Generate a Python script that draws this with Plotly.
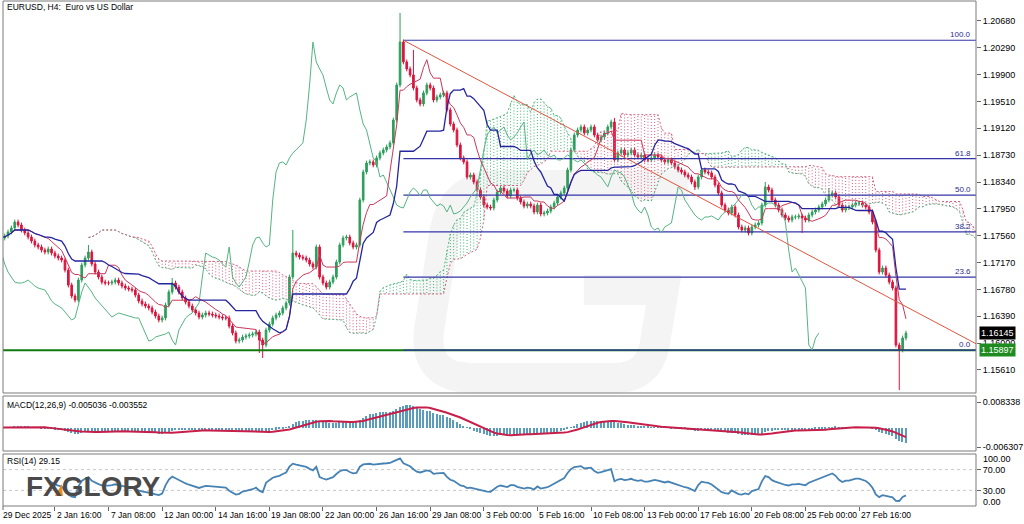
import numpy as np
import pandas as pd
import plotly.graph_objects as go

# ---------------- data (EURUSD H4) ----------------
close = [
 1.17527, 1.17556, 1.17614, 1.17672, 1.17759, 1.17716, 1.17643, 1.17600, 1.17541, 1.17483,
 1.17425, 1.17396, 1.17352, 1.17323, 1.17367, 1.17308, 1.17265, 1.17236, 1.17207, 1.17061,
 1.16843, 1.16684, 1.16626, 1.16916, 1.17134, 1.17236, 1.17323, 1.17149, 1.17032, 1.16960,
 1.16887, 1.16873, 1.16873, 1.16887, 1.16916, 1.16873, 1.16829, 1.16800, 1.16785, 1.16771,
 1.16698, 1.16612, 1.16568, 1.16539, 1.16510, 1.16452, 1.16394, 1.16335, 1.16365, 1.16553,
 1.16742, 1.16873, 1.16814, 1.16742, 1.16655, 1.16597, 1.16539, 1.16481, 1.16437, 1.16379,
 1.16408, 1.16437, 1.16423, 1.16408, 1.16394, 1.16379, 1.16365, 1.16365, 1.16248, 1.16147,
 1.16030, 1.16045, 1.16088, 1.16103, 1.16117, 1.16132, 1.16161, 1.16045, 1.15972, 1.16190,
 1.16277, 1.16365, 1.16408, 1.16437, 1.16510, 1.16582, 1.16960, 1.17308, 1.17279, 1.17250,
 1.17236, 1.17207, 1.17149, 1.17105, 1.17396, 1.16960, 1.16873, 1.16814, 1.16887, 1.16960,
 1.17178, 1.17425, 1.17527, 1.17541, 1.17454, 1.17396, 1.17425, 1.18079, 1.18486, 1.18617,
 1.18632, 1.18588, 1.18690, 1.18762, 1.18806, 1.18850, 1.18908, 1.19241, 1.19750, 1.20375,
 1.20085, 1.19983, 1.19896, 1.19706, 1.19532, 1.19474, 1.19634, 1.19750, 1.19706, 1.19532,
 1.19576, 1.19605, 1.19634, 1.19387, 1.19183, 1.19096, 1.18879, 1.18690, 1.18632, 1.18413,
 1.18442, 1.18341, 1.18224, 1.18123, 1.18006, 1.17977, 1.17963, 1.18079, 1.18195, 1.18253,
 1.18210, 1.18137, 1.18224, 1.18224, 1.18108, 1.18050, 1.17992, 1.18021, 1.17992, 1.17905,
 1.18006, 1.17876, 1.17890, 1.17919, 1.17977, 1.18035, 1.18123, 1.18181, 1.18253, 1.18515,
 1.18806, 1.19023, 1.19096, 1.19140, 1.19053, 1.19096, 1.19140, 1.19023, 1.18951, 1.18994,
 1.19053, 1.19140, 1.19212, 1.18661, 1.18762, 1.18806, 1.18733, 1.18762, 1.18806, 1.18733,
 1.18704, 1.18733, 1.18661, 1.18661, 1.18690, 1.18733, 1.18704, 1.18661, 1.18632, 1.18661,
 1.18617, 1.18559, 1.18515, 1.18486, 1.18442, 1.18413, 1.18341, 1.18268, 1.18413, 1.18515,
 1.18486, 1.18472, 1.18413, 1.18297, 1.18181, 1.18006, 1.17934, 1.17890, 1.17977, 1.17861,
 1.17687, 1.17643, 1.17672, 1.17600, 1.17687, 1.17716, 1.17745, 1.18006, 1.18268, 1.18224,
 1.18079, 1.18006, 1.17934, 1.17861, 1.17817, 1.17788, 1.17832, 1.17832, 1.17847, 1.17817,
 1.17788, 1.17861, 1.17905, 1.17934, 1.17977, 1.18021, 1.18079, 1.18152, 1.18181, 1.18123,
 1.18006, 1.17934, 1.17977, 1.17977, 1.18006, 1.18035, 1.18035, 1.18006, 1.17977, 1.17905,
 1.17760, 1.17352, 1.17032, 1.17091, 1.16989, 1.16887, 1.16800, 1.15972, 1.15900, 1.16074,
 1.16145,
]
first_open = 1.17545
wick_size = 0.00035
high_marks = {26: 1.17425, 51: 1.16946, 87: 1.17643, 119: 1.20796, 123: 1.20259,
              183: 1.19270, 228: 1.18341, 247: 1.18253}
low_marks = {77: 1.15856, 78: 1.15784, 207: 1.18224, 239: 1.17600, 268: 1.15318}

tick_idx = [0, 16, 32, 48, 64, 80, 96, 112, 128, 144, 160, 176, 192, 208, 224, 240, 256]
tick_text = ["29 Dec 2025", "2 Jan 16:00", "7 Jan 08:00", "12 Jan 00:00", "14 Jan 16:00",
             "19 Jan 08:00", "22 Jan 00:00", "26 Jan 16:00", "29 Jan 08:00", "3 Feb 00:00",
             "5 Feb 16:00", "10 Feb 08:00", "13 Feb 00:00", "17 Feb 16:00", "20 Feb 08:00",
             "25 Feb 00:00", "27 Feb 16:00"]
price_ticks = [1.20680, 1.20290, 1.19900, 1.19510, 1.19120, 1.18730, 1.18340,
               1.17950, 1.17560, 1.17170, 1.16780, 1.16390, 1.16000, 1.15610]
fib_levels = [0.0, 23.6, 38.2, 50.0, 61.8, 100.0]
fib_low, fib_high = 1.15897, 1.20400
fib_start = 120
trend_x = [120, 291]
trend_y = [1.20400, 1.15988]
support_level = 1.15897
last_price = 1.16145
macd_labels = [0.008338, -0.006307]

# ---------------- derived series ----------------
n = len(close)
idx = np.arange(n)
opn = [first_open] + close[:-1]
high = [high_marks.get(i, max(o, c) + wick_size) for i, (o, c) in enumerate(zip(opn, close))]
low = [low_marks.get(i, min(o, c) - wick_size) for i, (o, c) in enumerate(zip(opn, close))]

h = pd.Series(high); l = pd.Series(low); c = pd.Series(close)
tenkan = (h.rolling(9, min_periods=1).max() + l.rolling(9, min_periods=1).min()) / 2
kijun = (h.rolling(26, min_periods=1).max() + l.rolling(26, min_periods=1).min()) / 2
spanA = ((tenkan + kijun) / 2).values
spanB = ((h.rolling(52, min_periods=1).max() + l.rolling(52, min_periods=1).min()) / 2).values

ema12 = c.ewm(span=12, adjust=False).mean()
ema26 = c.ewm(span=26, adjust=False).mean()
macd = ema12 - ema26
signal = macd.rolling(9, min_periods=1).mean()

d = c.diff()
up = d.clip(lower=0).ewm(alpha=1/14, adjust=False, min_periods=14).mean()
dn = (-d.clip(upper=0)).ewm(alpha=1/14, adjust=False, min_periods=14).mean()
rsi = 100 - 100 / (1 + up / dn)

# ---------------- figure ----------------
W, H = 1024, 524
ML, MR, MT, MB = 3, 46, 1, 18
PW, PH = W - ML - MR, H - MT - MB

def pxx(px):
    return (px - ML) / PW

def pxy(py):
    return (H - MB - py) / PH

FONT = "Liberation Sans"
fig = go.Figure()

# Ichimoku cloud (dotted verticals)
gx, gy, rx, ry = [], [], [], []
for i in range(n):
    x = i + 26
    if spanA[i] >= spanB[i]:
        gx += [x, x, None]; gy += [spanA[i], spanB[i], None]
    else:
        rx += [x, x, None]; ry += [spanA[i], spanB[i], None]
fig.add_trace(go.Scatter(x=gx, y=gy, mode="lines", line=dict(color="#3CB371", width=1, dash="1px,2px"),
                         hoverinfo="skip"))
fig.add_trace(go.Scatter(x=rx, y=ry, mode="lines", line=dict(color="#D2607E", width=1, dash="1px,2px"),
                         hoverinfo="skip"))
fig.add_trace(go.Scatter(x=idx + 26, y=spanA, mode="lines", line=dict(color="#4FB57E", width=1, dash="2px,2px")))
fig.add_trace(go.Scatter(x=idx + 26, y=spanB, mode="lines", line=dict(color="#D2607E", width=1, dash="2px,2px")))

# support line
fig.add_trace(go.Scatter(x=[0.5, 291], y=[support_level, support_level], mode="lines",
                         line=dict(color="#0E7A0E", width=2)))
# fibonacci
for lv in fib_levels:
    p = fib_low + (fib_high - fib_low) * lv / 100
    fig.add_trace(go.Scatter(x=[fib_start, 291], y=[p, p], mode="lines",
                             line=dict(color="#3535A8", width=1.2)))
# chikou
fig.add_trace(go.Scatter(x=idx[26:] - 26, y=close[26:], mode="lines",
                         line=dict(color="#55B483", width=1)))
# candles
fig.add_trace(go.Candlestick(x=idx, open=opn, high=high, low=low, close=close,
                             increasing=dict(line=dict(color="#2E9E5B", width=1), fillcolor="#2E9E5B"),
                             decreasing=dict(line=dict(color="#DC143C", width=1), fillcolor="#DC143C"),
                             whiskerwidth=0))
# tenkan / kijun
fig.add_trace(go.Scatter(x=idx, y=tenkan, mode="lines", line=dict(color="#C8375A", width=1)))
fig.add_trace(go.Scatter(x=idx, y=kijun, mode="lines", line=dict(color="#2424A0", width=1.3)))
# trendline
fig.add_trace(go.Scatter(x=trend_x, y=trend_y, mode="lines", line=dict(color="#E0553F", width=1)))

# MACD
fig.add_trace(go.Bar(x=idx, y=macd, marker=dict(color="#5B9BBE", line=dict(width=0)), width=0.45,
                     yaxis="y2"))
fig.add_trace(go.Scatter(x=idx, y=signal, mode="lines", line=dict(color="#C81E4A", width=2), yaxis="y2"))

# RSI
for lv in [70, 30]:
    fig.add_trace(go.Scatter(x=[0.5, 291], y=[lv, lv], mode="lines",
                             line=dict(color="#C8C8C8", width=1, dash="3px,3px"), yaxis="y3"))
fig.add_trace(go.Scatter(x=idx, y=rsi, mode="lines", line=dict(color="#4682B4", width=1.8), yaxis="y3"))

tick_font = dict(family=FONT, size=9, color="#000")
fig.update_layout(
    width=W, height=H, margin=dict(l=ML, r=MR, t=MT, b=MB),
    paper_bgcolor="white", plot_bgcolor="white", showlegend=False, hovermode=False,
    bargap=0,
    xaxis=dict(range=[0.5, 290.9], anchor="y3", showgrid=False, zeroline=False,
               tickvals=tick_idx, ticktext=[""] * len(tick_idx), ticks="outside", ticklen=4,
               tickcolor="#666", rangeslider=dict(visible=False), showline=False),
    yaxis=dict(domain=[pxy(393), 1], range=[1.15275, 1.20970], side="right", anchor="x",
               tickvals=price_ticks, ticktext=[f"{v:.5f}" for v in price_ticks],
               ticks="outside", ticklen=4, tickcolor="#666", showgrid=False, zeroline=False,
               tickfont=tick_font),
    yaxis2=dict(domain=[pxy(451), pxy(396)], range=[-0.007609, 0.010290], side="right", anchor="x",
                tickvals=macd_labels, ticktext=[f"{v:.6f}" for v in macd_labels],
                ticks="outside", ticklen=4, tickcolor="#666", showgrid=False, zeroline=False,
                tickfont=tick_font),
    yaxis3=dict(domain=[0, pxy(454)], range=[0, 100], side="right", anchor="x",
                tickvals=[70, 30], ticktext=["70.00", "30.00"],
                ticks="outside", ticklen=4, tickcolor="#666", showgrid=False, zeroline=False,
                tickfont=tick_font),
)

shapes = []
for yd in ["y domain", "y2 domain", "y3 domain"]:
    shapes.append(dict(type="rect", xref="paper", yref=yd, x0=0, x1=1, y0=0, y1=1,
                       line=dict(color="#7A7A7A", width=1), layer="above"))

def pth(points):
    out = []
    for cmd, pts in points:
        coords = " ".join(f"{pxx(a):.4f},{pxy(b):.4f}" for a, b in pts)
        out.append(f"{cmd} {coords}")
    return " ".join(out)

g_path = pth([("M", [(690, 185)]), ("L", [(500, 185)]), ("Q", [(452, 185), (445, 235)]),
              ("L", [(430, 330)]), ("Q", [(424, 378), (475, 378)]), ("L", [(615, 378)]),
              ("Q", [(650, 378), (656, 345)]), ("L", [(665, 290)]), ("L", [(585, 290)])])
shapes.append(dict(type="path", xref="paper", yref="paper", path=g_path,
                   line=dict(color="rgba(205,205,205,0.22)", width=30), fillcolor="rgba(0,0,0,0)",
                   layer="below"))
tri = pth([("M", [(55, 496)]), ("L", [(62, 484)]), ("L", [(63, 496)])]) + " Z"
shapes.append(dict(type="path", xref="paper", yref="paper", path=tri,
                   fillcolor="#F08A24", line=dict(width=0), layer="above"))
# first date tick (at the left frame edge)
shapes.append(dict(type="line", xref="paper", yref="paper", x0=pxx(3), x1=pxx(3), y0=0, y1=pxy(510),
                   line=dict(color="#666", width=1)))
fig.update_layout(shapes=shapes)

ann = []
small = dict(family=FONT, size=8.5, color="#000")
for k, (t, s) in enumerate(zip(tick_idx, tick_text)):
    if k == 0:
        ann.append(dict(x=0, y=0, xref="paper", yref="paper", text=s, showarrow=False, xanchor="left",
                        yanchor="top", yshift=-2, xshift=-2, font=small))
    else:
        ann.append(dict(x=t, y=0, xref="x", yref="paper", text=s, showarrow=False, xanchor="left",
                        yanchor="top", yshift=-2, xshift=0, font=small))
ann.append(dict(x=pxx(5), y=pxy(7), xref="paper", yref="paper", text="EURUSD, H4:  Euro vs US Dollar",
                showarrow=False, xanchor="left", yanchor="middle", font=small))
ann.append(dict(x=pxx(5), y=pxy(405), xref="paper", yref="paper", text="MACD(12,26,9) -0.005036 -0.003552",
                showarrow=False, xanchor="left", yanchor="middle", font=small))
ann.append(dict(x=pxx(5), y=pxy(461), xref="paper", yref="paper", text="RSI(14) 29.15",
                showarrow=False, xanchor="left", yanchor="middle", font=small))
for lv in fib_levels:
    p = fib_low + (fib_high - fib_low) * lv / 100
    ann.append(dict(x=1, y=p, xref="paper", yref="y", text=f"{lv:.1f}", showarrow=False,
                    xanchor="right", yanchor="bottom", xshift=-3, yshift=-1,
                    font=dict(family=FONT, size=8, color="#2B2B8F")))
ann.append(dict(x=1, y=100, xref="paper", yref="y3", text="100.00", showarrow=False, xanchor="left",
                yanchor="middle", xshift=5, yshift=-5, font=tick_font))
ann.append(dict(x=1, y=0, xref="paper", yref="y3", text="0.00", showarrow=False, xanchor="left",
                yanchor="middle", xshift=5, yshift=4, font=tick_font))
ann.append(dict(x=1, y=last_price, xref="paper", yref="y", text=f"{last_price:.5f}", showarrow=False,
                xanchor="left", yanchor="middle", xshift=3, bgcolor="#000", borderpad=1,
                font=dict(family=FONT, size=9, color="#fff")))
ann.append(dict(x=1, y=support_level, xref="paper", yref="y", text=f"{support_level:.5f}", showarrow=False,
                xanchor="left", yanchor="middle", xshift=3, bgcolor="#1E8C1E", borderpad=1,
                font=dict(family=FONT, size=9, color="#fff")))
ann.append(dict(x=pxx(24), y=pxy(486), xref="paper", yref="paper", text="<b>FXGLORY</b>", showarrow=False,
                xanchor="left", yanchor="middle", font=dict(family=FONT, size=28, color="#4A4A4A")))
fig.update_layout(annotations=ann)

fig.write_html("out.html", config={"displayModeBar": False},
               post_script="document.body.style.margin='0';document.body.style.overflow='hidden';")
